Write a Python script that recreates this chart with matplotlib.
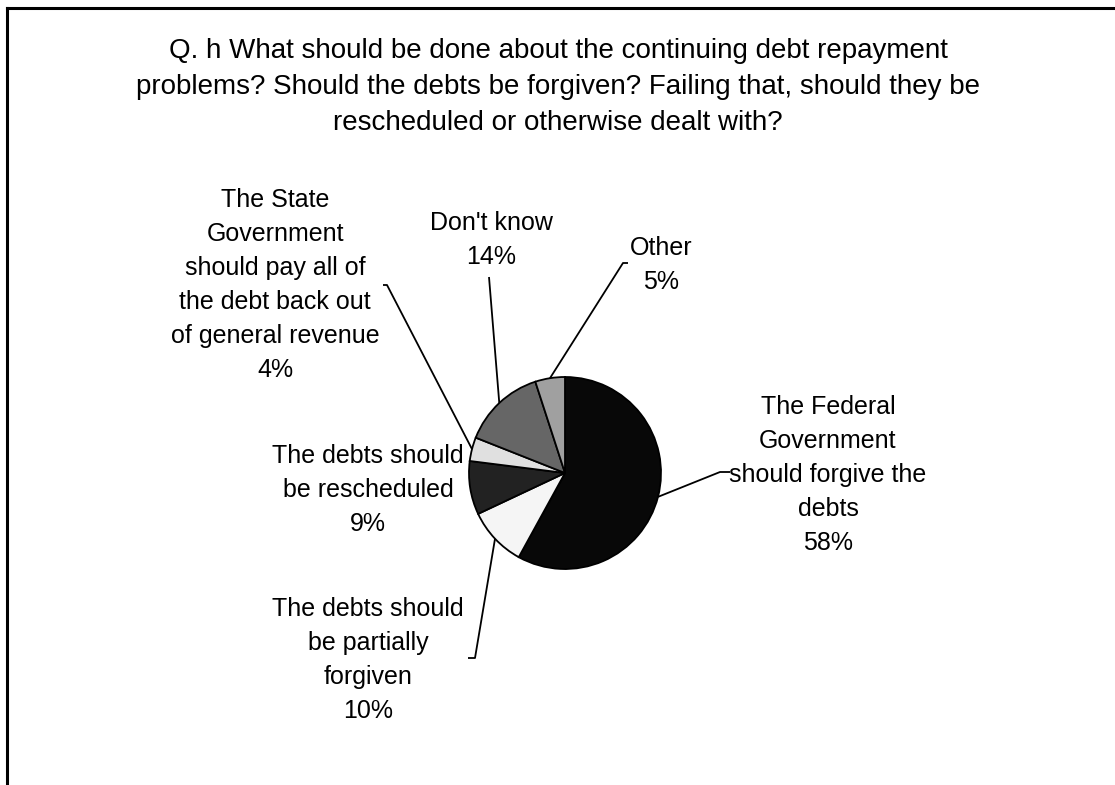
import matplotlib
matplotlib.use('Agg')
import matplotlib.pyplot as plt
from matplotlib.lines import Line2D
import numpy as np

plt.rcParams['font.family'] = ['Liberation Sans', 'DejaVu Sans']

# Survey responses, clockwise from 12 o'clock
answers = [
    'The Federal\nGovernment\nshould forgive the\ndebts',
    'The debts should\nbe partially\nforgiven',
    'The debts should\nbe rescheduled',
    'The State\nGovernment\nshould pay all of\nthe debt back out\nof general revenue',
    "Don't know",
    'Other',
]
shares = [58, 10, 9, 4, 14, 5]
fills = ['#080808', '#f5f5f5', '#222222', '#e0e0e0', '#666666', '#a0a0a0']

title = ('Q. h What should be done about the continuing debt repayment\n'
         'problems? Should the debts be forgiven? Failing that, should they be\n'
         'rescheduled or otherwise dealt with?')

W, H = 1115, 785
fig = plt.figure(figsize=(W / 100, H / 100), dpi=100)
ax = fig.add_axes([0, 0, 1, 1])

cx, cy, r = 565, H - 473, 96
wedges, _ = ax.pie(shares, colors=fills, startangle=90, counterclock=False,
                   center=(cx, cy), radius=r,
                   wedgeprops=dict(edgecolor='black', linewidth=1.3))
ax.set_xlim(0, W)
ax.set_ylim(0, H)
ax.set_aspect('equal')
ax.axis('off')

# label block centre (px from top-left) and leader path end points
label_pos = [(828, 475), (368, 660), (368, 490), (275, 285), (491, 240), (661, 265)]
leaders = [
    [(720, 472), (730, 472)],
    [(475, 658), (468, 658)],
    None,
    [(387, 285), (383, 285)],
    [(489, 277)],
    [(623, 263), (628, 263)],
]

for w, name, pct, (lx, ly), path in zip(wedges, answers, shares, label_pos, leaders):
    ax.text(lx, H - ly, f'{name}\n{pct}%', ha='center', va='center',
            fontsize=18, linespacing=1.53, color='black')
    if path is None:
        continue
    mid = np.deg2rad((w.theta1 + w.theta2) / 2)
    xs = [cx + r * np.cos(mid)] + [p[0] for p in path]
    ys = [cy + r * np.sin(mid)] + [H - p[1] for p in path]
    ax.plot(xs, ys, color='black', linewidth=1.3, solid_capstyle='butt')

ax.text(558, H - 87, title, ha='center', va='center', fontsize=20,
        linespacing=1.48, color='black')

# outer frame (top and left edges only)
fig.add_artist(Line2D([7 / W, 1], [1 - 8 / H, 1 - 8 / H], color='black', linewidth=2.2))
fig.add_artist(Line2D([7 / W, 7 / W], [0, 1 - 8 / H], color='black', linewidth=2.2))

fig.savefig('out.png', dpi=100)
